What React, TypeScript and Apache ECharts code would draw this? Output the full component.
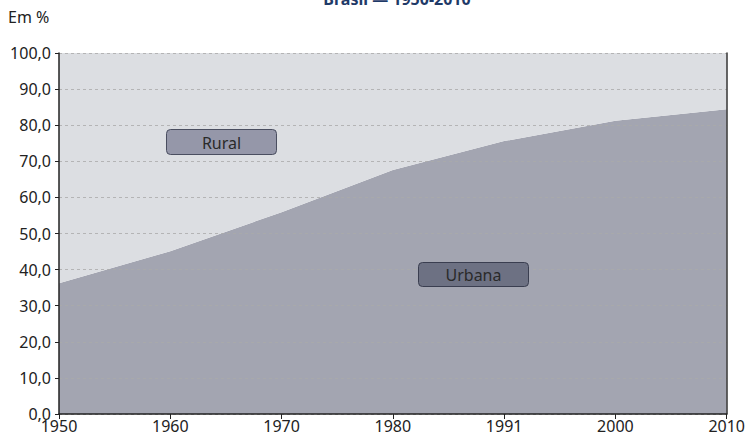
import React, { useEffect, useRef } from "react";
import * as echarts from "echarts";

const years = ["1950", "1960", "1970", "1980", "1991", "2000", "2010"];
const urbana = [36.2, 45.1, 55.9, 67.6, 75.6, 81.2, 84.4];
const rural = [63.8, 54.9, 44.1, 32.4, 24.4, 18.8, 15.6];
const yTicks = [0, 10, 20, 30, 40, 50, 60, 70, 80, 90, 100];

const FONT = "'Noto Sans', 'Open Sans', sans-serif";

export default function App() {
  const ref = useRef<HTMLDivElement>(null);
  useEffect(() => {
    if (!ref.current) return;
    const chart = echarts.init(ref.current, null, { renderer: "svg" });
    chart.setOption({
      animation: false,
      backgroundColor: "#ffffff",
      title: {
        text: "Brasil — 1950-2010",
        left: 392,
        textAlign: "center",
        top: -14,
        textStyle: { fontFamily: FONT, fontSize: 16, fontWeight: "bold", color: "#1f3a68" },
      },
      graphic: [
        {
          type: "text",
          left: 8,
          top: 9,
          z: 100,
          style: { text: "Em %", font: `16px ${FONT}`, fill: "#222" },
        },
        {
          type: "group",
          left: 166,
          top: 129,
          z: 100,
          children: [
            {
              type: "rect",
              z: 100,
              shape: { x: 0, y: 0, width: 110, height: 25, r: 4 },
              style: { fill: "#9597a9", stroke: "#4a4e60", lineWidth: 1 },
            },
            {
              type: "text",
              z: 101,
              style: {
                x: 55,
                y: 13,
                text: "Rural",
                align: "center",
                verticalAlign: "middle",
                font: `16px ${FONT}`,
                fill: "#2a2a2a",
              },
            },
          ],
        },
        {
          type: "group",
          left: 418,
          top: 262,
          z: 100,
          children: [
            {
              type: "rect",
              z: 100,
              shape: { x: 0, y: 0, width: 110, height: 24, r: 4 },
              style: { fill: "#6d7183", stroke: "#3a3e50", lineWidth: 1 },
            },
            {
              type: "text",
              z: 101,
              style: {
                x: 55,
                y: 12,
                text: "Urbana",
                align: "center",
                verticalAlign: "middle",
                font: `16px ${FONT}`,
                fill: "#2a2a2a",
              },
            },
          ],
        },
      ],
      grid: { left: 59, right: 21, top: 53, bottom: 23, containLabel: false },
      xAxis: {
        type: "category",
        data: years,
        boundaryGap: false,
        axisLine: { lineStyle: { color: "#222", width: 1.5 } },
        axisTick: { show: true, length: 5, lineStyle: { color: "#222" } },
        axisLabel: { fontFamily: FONT, fontSize: 16, color: "#222", margin: 4 },
        splitLine: { show: false },
        z: 10,
      },
      yAxis: [
        {
          type: "value",
          min: 0,
          max: 100,
          interval: 10,
          axisLine: { show: true, lineStyle: { color: "#222", width: 1.5 } },
          axisTick: { show: true, length: 4, lineStyle: { color: "#222" } },
          axisLabel: {
            fontFamily: FONT,
            fontSize: 16,
            color: "#222",
            margin: 8,
            formatter: (v: number) => (yTicks.includes(v) ? v.toFixed(1).replace(".", ",") : ""),
          },
          splitLine: { show: true, lineStyle: { color: "#aaaaaa", type: [3, 3], width: 0.8 } },
          z: 10,
        },
        {
          type: "value",
          min: 0,
          max: 100,
          interval: 10,
          position: "right",
          axisLine: { show: true, lineStyle: { color: "#333", width: 1.5 } },
          axisTick: { show: false },
          axisLabel: { show: false },
          splitLine: { show: false },
          z: 10,
        },
      ],
      series: [
        {
          name: "Urbana",
          type: "line",
          stack: "total",
          data: urbana,
          symbol: "none",
          lineStyle: { width: 0 },
          areaStyle: { color: "#a3a5b1", opacity: 1 },
          z: 1,
        },
        {
          name: "Rural",
          type: "line",
          stack: "total",
          data: rural,
          symbol: "none",
          lineStyle: { width: 0 },
          areaStyle: { color: "#dcdee2", opacity: 1 },
          z: 1,
        },
      ],
    });
    return () => chart.dispose();
  }, []);
  return <div ref={ref} style={{ width: 748, height: 437, position: "absolute", left: 0, top: 0 }} />;
}
